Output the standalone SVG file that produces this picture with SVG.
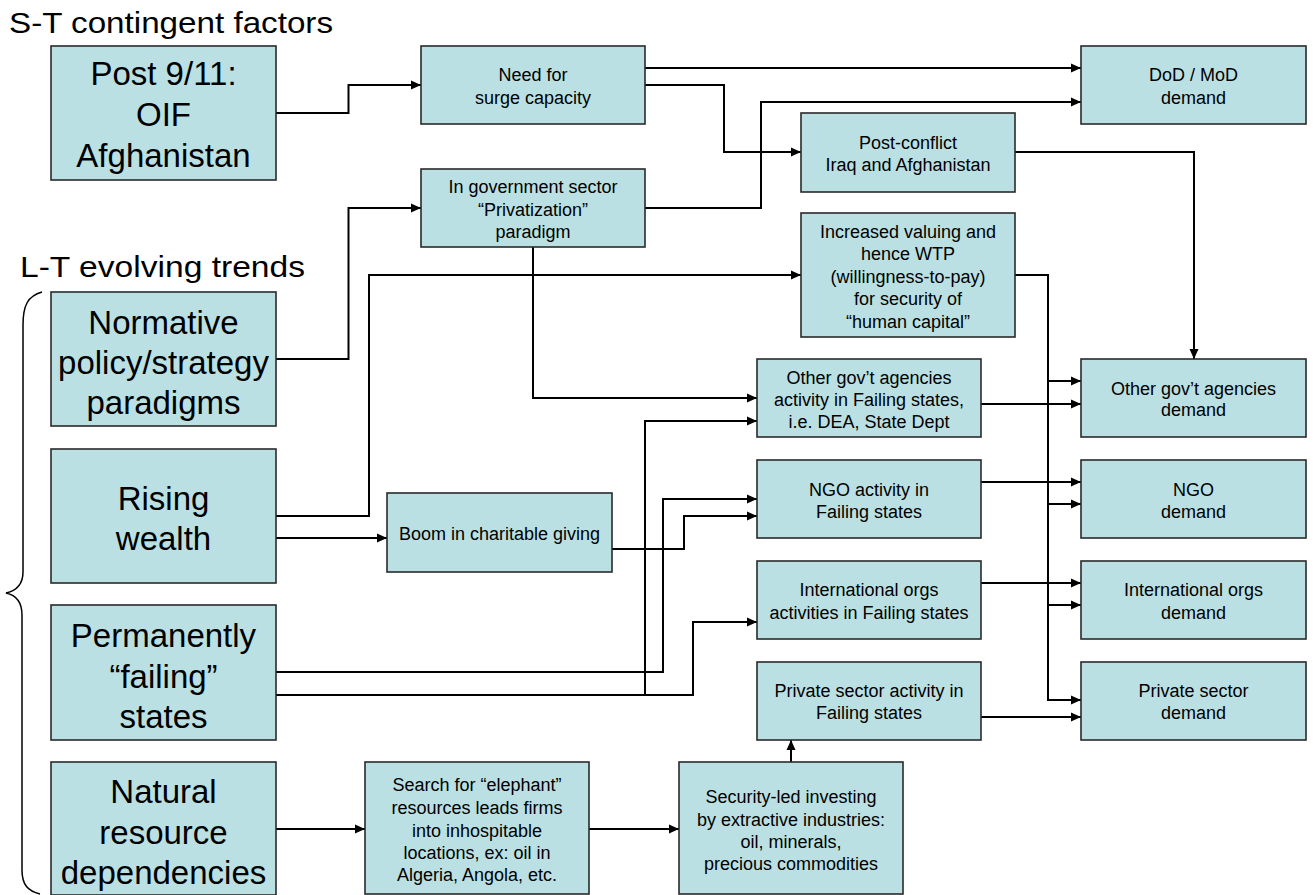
<svg xmlns="http://www.w3.org/2000/svg" width="1313" height="895" viewBox="0 0 1313 895">
<defs>
<style>
.box{fill:#BAE0E4;stroke:#2a2a2a;stroke-width:1.6}
.big{font-family:"Liberation Sans",Arial,sans-serif;font-size:33px;fill:#000;text-anchor:middle}
.sm{font-family:"Liberation Sans",Arial,sans-serif;font-size:18px;fill:#000;text-anchor:middle}
.ttl{font-family:"Liberation Sans",Arial,sans-serif;font-size:29px;fill:#000}
.ln{fill:none;stroke:#000;stroke-width:2}
.arr{marker-end:url(#ah)}
</style>
<marker id="ah" markerWidth="10" markerHeight="10" refX="10" refY="5" orient="auto" markerUnits="userSpaceOnUse">
<path d="M0,0.5 L10,5 L0,9.5 Z" fill="#000"/>
</marker>
</defs>
<rect width="1313" height="895" fill="#fff"/>
<text class="ttl" x="9" y="33" textLength="324" lengthAdjust="spacingAndGlyphs">S-T contingent factors</text>
<text class="ttl" x="20" y="277" font-size="30" textLength="285" lengthAdjust="spacingAndGlyphs">L-T evolving trends</text>
<path d="M42,292 C28,296 23,305 23,325 V572 C23,585 15,591 6,593 C15,595 22,601 22,615 V870 C22,885 28,891 40,894" fill="none" stroke="#000" stroke-width="1.5"/>

<g id="connectors">
<path class="ln arr" d="M276,113 H348.5 V85 H421"/>
<path class="ln arr" d="M645,68 H1081"/>
<path class="ln arr" d="M645,85 H724 V152 H801"/>
<path class="ln arr" d="M645,208 H761 V102 H1081"/>
<path class="ln arr" d="M1015,152 H1194 V359"/>
<path class="ln arr" d="M276,359 H348.5 V208 H421"/>
<path class="ln arr" d="M276,516 H369 V275 H801"/>
<path class="ln arr" d="M1015,275 H1048 V700 H1081"/>
<path class="ln arr" d="M1048,381 H1081"/>
<path class="ln arr" d="M1048,504 H1081"/>
<path class="ln arr" d="M1048,605 H1081"/>
<path class="ln arr" d="M533,247 V398 H757"/>
<path class="ln arr" d="M981,404 H1081"/>
<path class="ln arr" d="M276,538 H387"/>
<path class="ln arr" d="M612,549 H684 V516 H757"/>
<path class="ln arr" d="M276,672 H663 V499 H757"/>
<path class="ln arr" d="M276,695 H645 V421 H757"/>
<path class="ln arr" d="M645,695 H693 V622 H757"/>
<path class="ln arr" d="M981,482 H1081"/>
<path class="ln arr" d="M981,583 H1081"/>
<path class="ln arr" d="M981,717 H1081"/>
<path class="ln arr" d="M791,762 V740"/>
<path class="ln arr" d="M276,829 H365"/>
<path class="ln arr" d="M589,829 H679"/>
</g>

<g id="post911"><rect class="box" x="51" y="46" width="225" height="134"/>
<text class="big" x="163.5" y="85">Post 9/11:</text><text class="big" x="163.5" y="126">OIF</text><text class="big" x="163.5" y="167">Afghanistan</text></g>
<g id="needSurge"><rect class="box" x="421" y="46" width="224" height="78"/>
<text class="sm" x="533" y="81">Need for</text><text class="sm" x="533" y="104">surge capacity</text></g>
<g id="dod"><rect class="box" x="1081" y="46" width="225" height="78"/>
<text class="sm" x="1193.5" y="81">DoD / MoD</text><text class="sm" x="1193.5" y="104">demand</text></g>
<g id="postConflict"><rect class="box" x="801" y="113" width="214" height="79"/>
<text class="sm" x="908" y="149">Post-conflict</text><text class="sm" x="908" y="171">Iraq and Afghanistan</text></g>
<g id="inGov"><rect class="box" x="421" y="169" width="224" height="78"/>
<text class="sm" x="533" y="193">In government sector</text><text class="sm" x="533" y="216">“Privatization”</text><text class="sm" x="533" y="238">paradigm</text></g>
<g id="increased"><rect class="box" x="801" y="213" width="214" height="124"/>
<text class="sm" x="908" y="238">Increased valuing and</text><text class="sm" x="908" y="260">hence WTP</text><text class="sm" x="908" y="283">(willingness-to-pay)</text><text class="sm" x="908" y="305">for security of</text><text class="sm" x="908" y="328">“human capital”</text></g>
<g id="normative"><rect class="box" x="51" y="292" width="225" height="134"/>
<text class="big" x="163.5" y="334">Normative</text><text class="big" x="163.5" y="374">policy/strategy</text><text class="big" x="163.5" y="414">paradigms</text></g>
<g id="otherGovAct"><rect class="box" x="757" y="359" width="224" height="78"/>
<text class="sm" x="869" y="384">Other gov’t agencies</text><text class="sm" x="869" y="406">activity in Failing states,</text><text class="sm" x="869" y="428">i.e. DEA, State Dept</text></g>
<g id="otherGovDem"><rect class="box" x="1081" y="359" width="225" height="78"/>
<text class="sm" x="1193.5" y="395">Other gov’t agencies</text><text class="sm" x="1193.5" y="416">demand</text></g>
<g id="rising"><rect class="box" x="51" y="449" width="225" height="134"/>
<text class="big" x="163.5" y="510">Rising</text><text class="big" x="163.5" y="550">wealth</text></g>
<g id="boom"><rect class="box" x="387" y="493" width="225" height="79"/>
<text class="sm" x="499.5" y="540">Boom in charitable giving</text></g>
<g id="ngoAct"><rect class="box" x="757" y="460" width="224" height="78"/>
<text class="sm" x="869" y="496">NGO activity in</text><text class="sm" x="869" y="518">Failing states</text></g>
<g id="ngoDem"><rect class="box" x="1081" y="460" width="225" height="78"/>
<text class="sm" x="1193.5" y="496">NGO</text><text class="sm" x="1193.5" y="518">demand</text></g>
<g id="intlAct"><rect class="box" x="757" y="561" width="224" height="78"/>
<text class="sm" x="869" y="596">International orgs</text><text class="sm" x="869" y="619">activities in Failing states</text></g>
<g id="intlDem"><rect class="box" x="1081" y="561" width="225" height="78"/>
<text class="sm" x="1193.5" y="596">International orgs</text><text class="sm" x="1193.5" y="619">demand</text></g>
<g id="permanently"><rect class="box" x="51" y="605" width="225" height="135"/>
<text class="big" x="163.5" y="647">Permanently</text><text class="big" x="163.5" y="688">“failing”</text><text class="big" x="163.5" y="728">states</text></g>
<g id="privAct"><rect class="box" x="757" y="662" width="224" height="78"/>
<text class="sm" x="869" y="697">Private sector activity in</text><text class="sm" x="869" y="719">Failing states</text></g>
<g id="privDem"><rect class="box" x="1081" y="662" width="225" height="78"/>
<text class="sm" x="1193.5" y="697">Private sector</text><text class="sm" x="1193.5" y="719">demand</text></g>
<g id="natural"><rect class="box" x="51" y="762" width="225" height="133"/>
<text class="big" x="163.5" y="803">Natural</text><text class="big" x="163.5" y="844">resource</text><text class="big" x="163.5" y="884">dependencies</text></g>
<g id="search"><rect class="box" x="365" y="762" width="224" height="132"/>
<text class="sm" x="477" y="791">Search for “elephant”</text><text class="sm" x="477" y="814">resources leads firms</text><text class="sm" x="477" y="837">into inhospitable</text><text class="sm" x="477" y="859">locations, ex: oil in</text><text class="sm" x="477" y="881">Algeria, Angola, etc.</text></g>
<g id="security"><rect class="box" x="679" y="762" width="224" height="132"/>
<text class="sm" x="791" y="803">Security-led investing</text><text class="sm" x="791" y="826">by extractive industries:</text><text class="sm" x="791" y="848">oil, minerals,</text><text class="sm" x="791" y="870">precious commodities</text></g>
</svg>
